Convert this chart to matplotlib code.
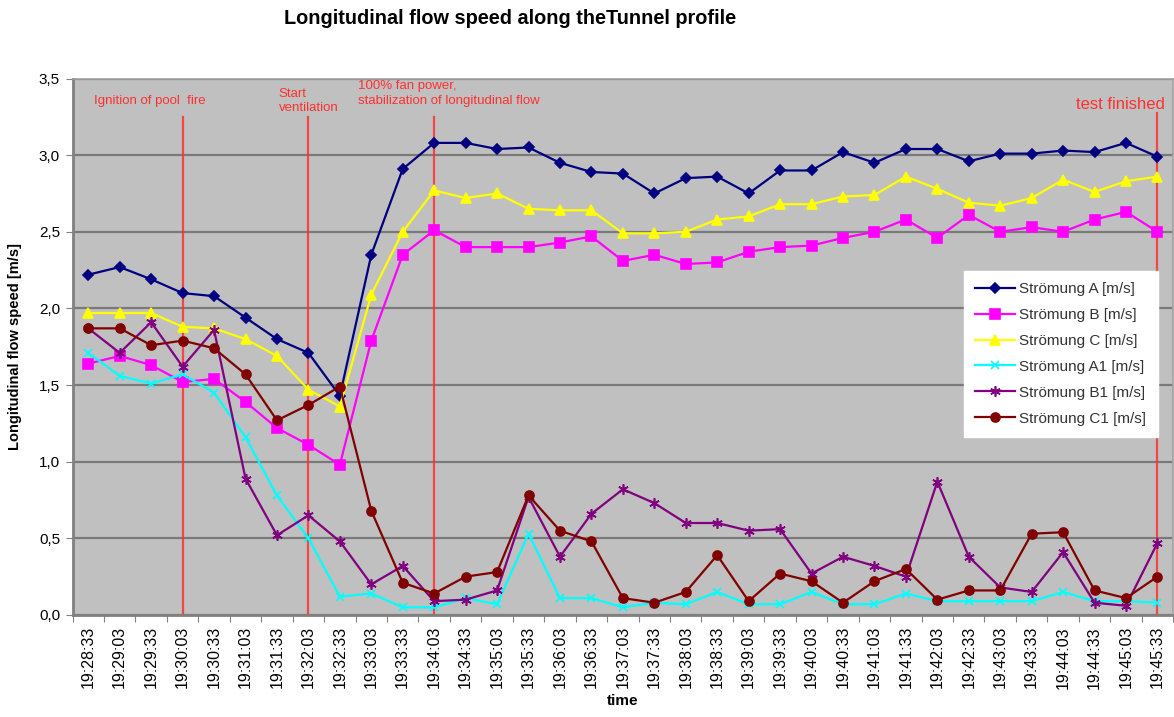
import matplotlib
matplotlib.use('Agg')
import matplotlib.pyplot as plt
import numpy as np

plt.rcParams['font.family'] = ['Liberation Sans', 'DejaVu Sans']

# time stamps, every 30 s
times = ['19:28:33', '19:29:03', '19:29:33', '19:30:03', '19:30:33', '19:31:03',
         '19:31:33', '19:32:03', '19:32:33', '19:33:03', '19:33:33', '19:34:03',
         '19:34:33', '19:35:03', '19:35:33', '19:36:03', '19:36:33', '19:37:03',
         '19:37:33', '19:38:03', '19:38:33', '19:39:03', '19:39:33', '19:40:03',
         '19:40:33', '19:41:03', '19:41:33', '19:42:03', '19:42:33', '19:43:03',
         '19:43:33', '19:44:03', '19:44:33', '19:45:03', '19:45:33']

flow_a = [2.22, 2.27, 2.19, 2.10, 2.08, 1.94, 1.80, 1.71, 1.43, 2.35, 2.91, 3.08,
          3.08, 3.04, 3.05, 2.95, 2.89, 2.88, 2.75, 2.85, 2.86, 2.75, 2.90, 2.90,
          3.02, 2.95, 3.04, 3.04, 2.96, 3.01, 3.01, 3.03, 3.02, 3.08, 2.99]
flow_b = [1.64, 1.69, 1.63, 1.52, 1.54, 1.39, 1.22, 1.11, 0.98, 1.79, 2.35, 2.51,
          2.40, 2.40, 2.40, 2.43, 2.47, 2.31, 2.35, 2.29, 2.30, 2.37, 2.40, 2.41,
          2.46, 2.50, 2.58, 2.46, 2.61, 2.50, 2.53, 2.50, 2.58, 2.63, 2.50]
flow_c = [1.97, 1.97, 1.97, 1.88, 1.87, 1.80, 1.69, 1.47, 1.36, 2.09, 2.50, 2.77,
          2.72, 2.75, 2.65, 2.64, 2.64, 2.49, 2.49, 2.50, 2.58, 2.60, 2.68, 2.68,
          2.73, 2.74, 2.86, 2.78, 2.69, 2.67, 2.72, 2.84, 2.76, 2.83, 2.86]
flow_a1 = [1.71, 1.56, 1.51, 1.57, 1.45, 1.16, 0.78, 0.50, 0.12, 0.14, 0.05, 0.05,
           0.11, 0.07, 0.53, 0.11, 0.11, 0.05, 0.08, 0.07, 0.15, 0.07, 0.07, 0.15,
           0.07, 0.07, 0.14, 0.09, 0.09, 0.09, 0.09, 0.15, 0.09, 0.09, 0.08]
flow_b1 = [1.87, 1.71, 1.91, 1.62, 1.86, 0.89, 0.52, 0.65, 0.48, 0.20, 0.32, 0.09,
           0.10, 0.16, 0.77, 0.38, 0.66, 0.82, 0.73, 0.60, 0.60, 0.55, 0.56, 0.27,
           0.38, 0.32, 0.25, 0.87, 0.38, 0.18, 0.15, 0.41, 0.08, 0.06, 0.47]
flow_c1 = [1.87, 1.87, 1.76, 1.79, 1.74, 1.57, 1.27, 1.37, 1.49, 0.68, 0.21, 0.14,
           0.25, 0.28, 0.78, 0.55, 0.48, 0.11, 0.08, 0.15, 0.39, 0.09, 0.27, 0.22,
           0.08, 0.22, 0.30, 0.10, 0.16, 0.16, 0.53, 0.54, 0.16, 0.11, 0.25]

# events: index into times, text
events = [(3, 'Ignition of pool  fire'),
          (7, 'Start\nventilation'),
          (11, '100% fan power,\nstabilization of longitudinal flow'),
          (34, 'test finished')]

x = np.arange(len(times))

fig = plt.figure(figsize=(11.74, 7.17), dpi=100)
ax = fig.add_axes([0.0618, 0.1423, 0.9375, 0.7482])
ax.set_facecolor('#c0c0c0')

series = [
    (flow_a, 'Strömung A [m/s]', '#000080', 'D', 5.5),
    (flow_b, 'Strömung B [m/s]', '#ff00ff', 's', 6.5),
    (flow_c, 'Strömung C [m/s]', '#ffff00', '^', 7),
    (flow_a1, 'Strömung A1 [m/s]', '#00ffff', 'x', 6),
    (flow_b1, 'Strömung B1 [m/s]', '#800080', (6, 2, 0), 7.5),
    (flow_c1, 'Strömung C1 [m/s]', '#800000', 'o', 6.5),
]
for vals, label, col, mk, ms in series:
    ax.plot(x, vals, color=col, marker=mk, markersize=ms, linewidth=1.6,
            markeredgewidth=1.2, label=label, zorder=3)

ax.set_xlim(-0.5, len(times) - 0.5)
ax.set_ylim(0, 3.5)

# y axis with comma decimals
yt = np.arange(0, 3.51, 0.5)
ax.set_yticks(yt)
ax.set_yticklabels([f'{v:.1f}'.replace('.', ',') for v in yt], fontsize=11)
ax.yaxis.grid(True, color='#7a7a7a', linewidth=1.6, zorder=1)
ax.set_axisbelow(True)

# category axis: ticks between categories, labels at centres
ax.set_xticks(np.arange(-0.5, len(times), 1))
ax.set_xticklabels([])
ax.set_xticks(x, minor=True)
ax.set_xticklabels(times, minor=True, rotation=90, fontsize=11.5)
ax.tick_params(axis='x', which='major', length=5, color='#808080')
ax.tick_params(axis='x', which='minor', length=0, pad=8)
ax.tick_params(axis='y', length=5, color='#808080', pad=4)

for side in ['left', 'bottom']:
    ax.spines[side].set_color('#808080')
    ax.spines[side].set_linewidth(2)
for side in ['top', 'right']:
    ax.spines[side].set_color('#a0a0a0')
    ax.spines[side].set_linewidth(1.2)

# event markers
red = '#ff3030'
for idx, text in events:
    top = 0.935 if idx == 34 else 0.928
    ax.axvline(idx, ymin=0, ymax=top, color=red, linewidth=1.6, alpha=0.85,
               zorder=2)
trans = ax.get_xaxis_transform()
ax.text(0.17, 0.958, events[0][1], transform=trans, color=red, fontsize=9.5,
        ha='left', va='center')
ax.text(6.05, 0.958, events[1][1], transform=trans, color=red, fontsize=9.5,
        ha='left', va='center', linespacing=1.3)
ax.text(8.58, 0.972, events[2][1], transform=trans, color=red, fontsize=9.5,
        ha='left', va='center', linespacing=1.3)
ax.text(34.25, 0.952, events[3][1], transform=trans, color=red, fontsize=12,
        ha='right', va='center')

leg = ax.legend(loc='upper right', bbox_to_anchor=(0.986, 0.642), fontsize=11,
                frameon=True, fancybox=False, framealpha=1, edgecolor='white',
                handlelength=2.6, handletextpad=0.3, labelspacing=0.78,
                borderpad=0.75, borderaxespad=0)
for t in leg.get_texts():
    t.set_color('#333333')

ax.set_xlabel('time', fontsize=11, fontweight='bold', labelpad=4)
ax.set_ylabel('Longitudinal flow speed [m/s]', fontsize=10.5, fontweight='bold',
              labelpad=12)
fig.text(510 / 1174, 1 - 18 / 717, 'Longitudinal flow speed along theTunnel profile',
         ha='center', va='center', fontsize=14.3, fontweight='bold')

fig.savefig('out.png', dpi=100)
